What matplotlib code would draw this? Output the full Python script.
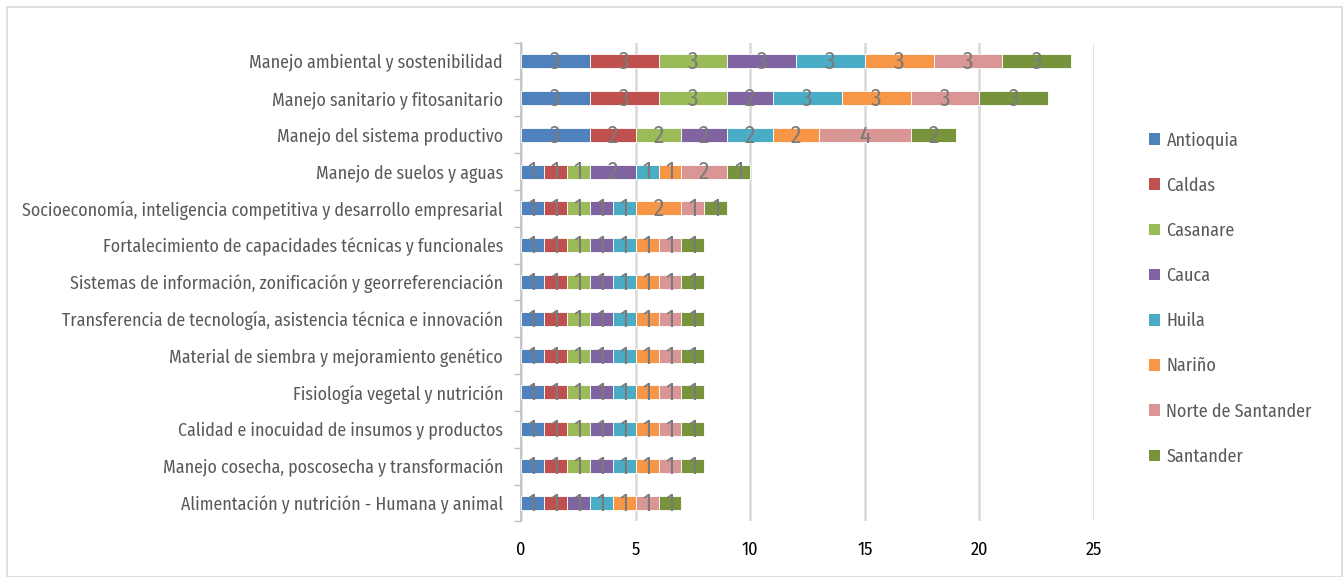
import matplotlib
matplotlib.use("Agg")
import matplotlib.pyplot as plt
from matplotlib.patches import Rectangle, Patch
import numpy as np

plt.rcParams['font.family'] = ['Fira Sans Condensed', 'DejaVu Sans']

categories = [
    "Manejo ambiental y sostenibilidad",
    "Manejo sanitario y fitosanitario",
    "Manejo del sistema productivo",
    "Manejo de suelos y aguas",
    "Socioeconomía, inteligencia competitiva y desarrollo empresarial",
    "Fortalecimiento de capacidades técnicas y funcionales",
    "Sistemas de información, zonificación y georreferenciación",
    "Transferencia de tecnología, asistencia técnica e innovación",
    "Material de siembra y mejoramiento genético",
    "Fisiología vegetal y nutrición",
    "Calidad e inocuidad de insumos y productos",
    "Manejo cosecha, poscosecha y transformación",
    "Alimentación y nutrición - Humana y animal",
]

antioquia = [3, 3, 3, 1, 1, 1, 1, 1, 1, 1, 1, 1, 1]
caldas = [3, 3, 2, 1, 1, 1, 1, 1, 1, 1, 1, 1, 1]
casanare = [3, 3, 2, 1, 1, 1, 1, 1, 1, 1, 1, 1, 0]
cauca = [3, 2, 2, 2, 1, 1, 1, 1, 1, 1, 1, 1, 1]
huila = [3, 3, 2, 1, 1, 1, 1, 1, 1, 1, 1, 1, 1]
narino = [3, 3, 2, 1, 2, 1, 1, 1, 1, 1, 1, 1, 1]
norte_santander = [3, 3, 4, 2, 1, 1, 1, 1, 1, 1, 1, 1, 1]
santander = [3, 3, 2, 1, 1, 1, 1, 1, 1, 1, 1, 1, 1]

series_names = ["Antioquia", "Caldas", "Casanare", "Cauca", "Huila",
                "Nariño", "Norte de Santander", "Santander"]
series_values = [antioquia, caldas, casanare, cauca, huila,
                 narino, norte_santander, santander]
colors = ["#4F81BD", "#C0504D", "#9BBB59", "#8064A2", "#4BACC6",
          "#F79646", "#D99694", "#77933C"]
x_ticks = [0, 5, 10, 15, 20, 25]

text_gray = "#595959"
label_gray = "#7a7a7a"

fig = plt.figure(figsize=(13.44, 5.77), dpi=100)
ax = fig.add_axes([521 / 1344, 1 - 521.4 / 577, (1094 - 521) / 1344, (521.4 - 42.6) / 577])

y = np.arange(len(categories))
left = np.zeros(len(categories))
for name, vals, c in zip(series_names, series_values, colors):
    vals = np.array(vals, dtype=float)
    bars = ax.barh(y, vals, left=left, height=0.38, color=c,
                   edgecolor="white", linewidth=0.6, label=name, zorder=3)
    for b, v in zip(bars, vals):
        if v > 0:
            ax.text(b.get_x() + b.get_width() / 2, b.get_y() + b.get_height() / 2 + 0.03,
                    f"{int(v)}", ha="center", va="center", color=label_gray,
                    fontsize=17, zorder=4)
    left += vals

ax.set_ylim(len(categories) - 0.5, -0.5)
ax.set_xlim(0, 25)
ax.set_yticks(y)
ax.set_yticklabels(categories, fontsize=12.8, color=text_gray)
ax.set_yticks(np.arange(-0.5, len(categories) + 0.5, 1), minor=True)
ax.tick_params(axis="y", which="major", length=0, pad=13)
ax.tick_params(axis="y", which="minor", length=5, color="#bfbfbf", width=1)
ax.set_xticks(x_ticks)
ax.set_xticklabels([str(t) for t in x_ticks], fontsize=13, color="#000000")
ax.tick_params(axis="x", length=0, pad=14)
ax.xaxis.grid(True, color="#d9d9d9", linewidth=1.8, zorder=0)
ax.set_axisbelow(True)
for s in ["top", "right", "bottom"]:
    ax.spines[s].set_visible(False)
ax.spines["left"].set_color("#bfbfbf")
ax.spines["left"].set_linewidth(1.2)

handles = [Patch(facecolor=c, edgecolor="none") for c in colors]
fig.legend(handles, series_names, loc="upper left",
           bbox_to_anchor=(1133 / 1344, 1 - 115 / 577), frameon=False,
           fontsize=13, labelcolor=text_gray, handlelength=0.6, handleheight=0.6,
           handletextpad=0.35, labelspacing=1.52)

fig.patches.append(Rectangle((7 / 1344, 0), (1342 - 7) / 1344, 1 - 7 / 577,
                             transform=fig.transFigure, fill=False,
                             edgecolor="#d9d9d9", linewidth=1.2))

fig.savefig("out.png", dpi=100)
